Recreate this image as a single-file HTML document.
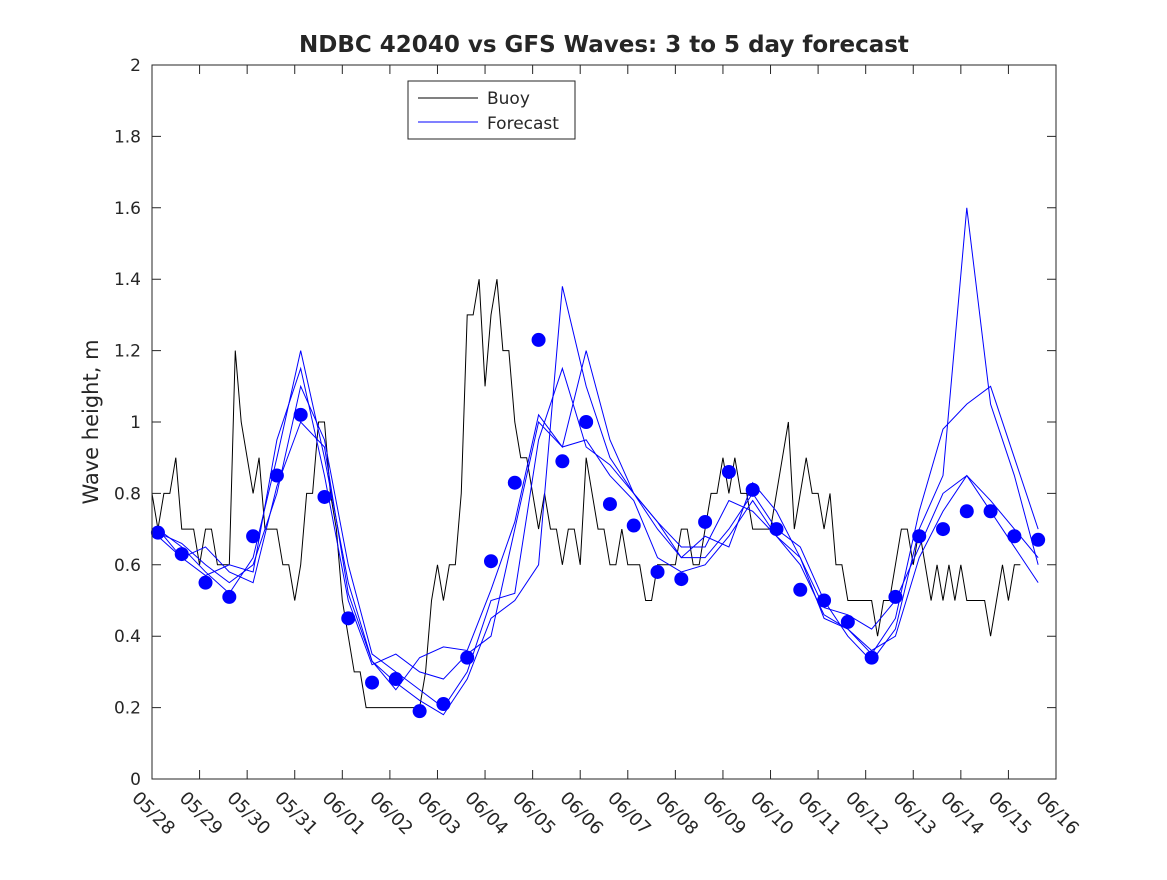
<!DOCTYPE html>
<html><head><meta charset="utf-8"><style>
body{margin:0;background:#fff}
svg text{font-family:"DejaVu Sans","Liberation Sans",sans-serif;fill:#262626}
</style></head><body>
<svg id="chart" width="1167" height="875"></svg>
<script>
const xTickLabels=["05/28","05/29","05/30","05/31","06/01","06/02","06/03","06/04","06/05","06/06","06/07","06/08","06/09","06/10","06/11","06/12","06/13","06/14","06/15","06/16"];
const yTickLabels=["0","0.2","0.4","0.6","0.8","1","1.2","1.4","1.6","1.8","2"];
const yTicks=[0,0.2,0.4,0.6,0.8,1,1.2,1.4,1.6,1.8,2];
const dotStart=0.125;
const dotValues=[0.69,0.63,0.55,0.51,0.68,0.85,1.02,0.79,0.45,0.27,0.28,0.19,0.21,0.34,0.61,0.83,1.23,0.89,1.0,0.77,0.71,0.58,0.56,0.72,0.86,0.81,0.70,0.53,0.50,0.44,0.34,0.51,0.68,0.70,0.75,0.75,0.68,0.67];
const buoyValues=[
0.8,0.7,0.8,0.8,0.9,0.7,0.7,0.7,
0.6,0.7,0.7,0.6,0.6,0.6,1.2,1.0,
0.9,0.8,0.9,0.7,0.7,0.7,0.6,0.6,
0.5,0.6,0.8,0.8,1.0,1.0,0.8,0.7,
0.5,0.4,0.3,0.3,0.2,0.2,0.2,0.2,
0.2,0.2,0.2,0.2,0.2,0.2,0.3,0.5,
0.6,0.5,0.6,0.6,0.8,1.3,1.3,1.4,
1.1,1.3,1.4,1.2,1.2,1.0,0.9,0.9,
0.8,0.7,0.8,0.7,0.7,0.6,0.7,0.7,
0.6,0.9,0.8,0.7,0.7,0.6,0.6,0.7,
0.6,0.6,0.6,0.5,0.5,0.6,0.6,0.6,
0.6,0.7,0.7,0.6,0.6,0.7,0.8,0.8,
0.9,0.8,0.9,0.8,0.8,0.7,0.7,0.7,
0.7,0.8,0.9,1.0,0.7,0.8,0.9,0.8,
0.8,0.7,0.8,0.6,0.6,0.5,0.5,0.5,
0.5,0.5,0.4,0.5,0.5,0.6,0.7,0.7,
0.6,0.7,0.6,0.5,0.6,0.5,0.6,0.5,
0.6,0.5,0.5,0.5,0.5,0.4,0.5,0.6,
0.5,0.6,0.6];
const buoyStep=0.125;
const fc1=[0.69,0.66,0.6,0.55,0.6,0.8,1.1,0.95,0.6,0.35,0.3,0.25,0.2,0.3,0.5,0.52,0.95,1.15,0.93,0.88,0.8,0.72,0.65,0.65,0.78,0.75,0.68,0.62,0.45,0.42,0.35,0.45,0.75,0.98,1.05,1.1,0.9,0.7];
const fc2=[0.7,0.65,0.58,0.52,0.62,0.9,1.2,0.9,0.55,0.33,0.27,0.22,0.18,0.28,0.45,0.5,0.6,1.38,1.1,0.9,0.8,0.7,0.62,0.62,0.7,0.8,0.7,0.65,0.5,0.4,0.33,0.42,0.7,0.85,1.6,1.05,0.85,0.6];
const fc3=[0.7,0.62,0.57,0.6,0.58,0.95,1.15,0.85,0.5,0.32,0.35,0.3,0.28,0.35,0.4,0.7,1.0,0.93,1.2,0.95,0.8,0.72,0.62,0.68,0.65,0.83,0.75,0.62,0.48,0.46,0.42,0.5,0.65,0.8,0.85,0.75,0.65,0.55];
const fc4=[0.68,0.62,0.65,0.58,0.55,0.82,1.0,0.93,0.52,0.33,0.25,0.34,0.37,0.36,0.53,0.72,1.02,0.93,0.95,0.85,0.78,0.62,0.58,0.6,0.68,0.78,0.68,0.6,0.46,0.42,0.36,0.4,0.62,0.75,0.85,0.78,0.7,0.62];

const NS="http://www.w3.org/2000/svg";
const svg=document.getElementById('chart');
const L=152,R=1056,T=65,B=779;
const xs=d=>L+d*(R-L)/19;
const ys=v=>B-v*(B-T)/2;
function mk(tag,attrs,parent){const e=document.createElementNS(NS,tag);for(const k in attrs)e.setAttribute(k,attrs[k]);(parent||svg).appendChild(e);return e;}

let e=mk('rect',{x:L,y:T,width:R-L,height:B-T,fill:'#fff',stroke:'none'});



const bd=buoyValues.map((v,i)=>`${i?'L':'M'}${xs(i*buoyStep)},${ys(v)}`).join('');
e=mk('path',{d:bd,fill:'none',stroke:'#000','stroke-width':1});



[fc1,fc2,fc3,fc4].forEach((s,k)=>{
  const p=s.map((v,i)=>`${i?'L':'M'}${xs(dotStart+i*0.5)},${ys(v)}`).join('');
  const l=mk('path',{d:p,fill:'none',stroke:'#0000ff','stroke-width':1});
  
  
});
dotValues.forEach((v,i)=>{
  const c=mk('circle',{cx:xs(dotStart+i*0.5),cy:ys(v),r:7,fill:'#0000ff'});
  
  
});

e=mk('rect',{x:L,y:T,width:R-L,height:B-T,fill:'none',stroke:'#262626','stroke-width':1});



xTickLabels.forEach((t,i)=>{
  const x=xs(i);
  const tk=mk('path',{d:`M${x},${B}V${B-9}M${x},${T}V${T+9}`,stroke:'#262626'});
  
  
  const tx=mk('text',{x:0,y:0,'font-size':18,transform:`translate(${x-12},${B+11}) rotate(45)`,'dominant-baseline':'hanging'});
  tx.textContent=t;
  
  
});
yTicks.forEach((v,i)=>{
  const y=ys(v);
  const tk=mk('path',{d:`M${L},${y}H${L+9}M${R},${y}H${R-9}`,stroke:'#262626'});
  
  
  const tx=mk('text',{x:L-11,y:y+6,'font-size':17,'text-anchor':'end'});
  tx.textContent=yTickLabels[i];
  
  
});

e=mk('text',{x:604,y:52,'font-size':23,'font-weight':'bold','text-anchor':'middle',fill:'#000'});
e.textContent='NDBC 42040 vs GFS Waves: 3 to 5 day forecast';


e=mk('text',{x:0,y:0,'font-size':21,'text-anchor':'middle',transform:'translate(98,422) rotate(-90)'});
e.textContent='Wave height, m';



const g=mk('g',{});


mk('rect',{x:408,y:81,width:167,height:58,fill:'#fff',stroke:'#262626'},g);
e=mk('path',{d:'M418,98H478',stroke:'#000'},g);


e=mk('text',{x:487,y:104,'font-size':17},g);e.textContent='Buoy';


e=mk('path',{d:'M418,122H478',stroke:'#0000ff'},g);


e=mk('text',{x:487,y:129,'font-size':17},g);e.textContent='Forecast';


</script>
</body></html>
